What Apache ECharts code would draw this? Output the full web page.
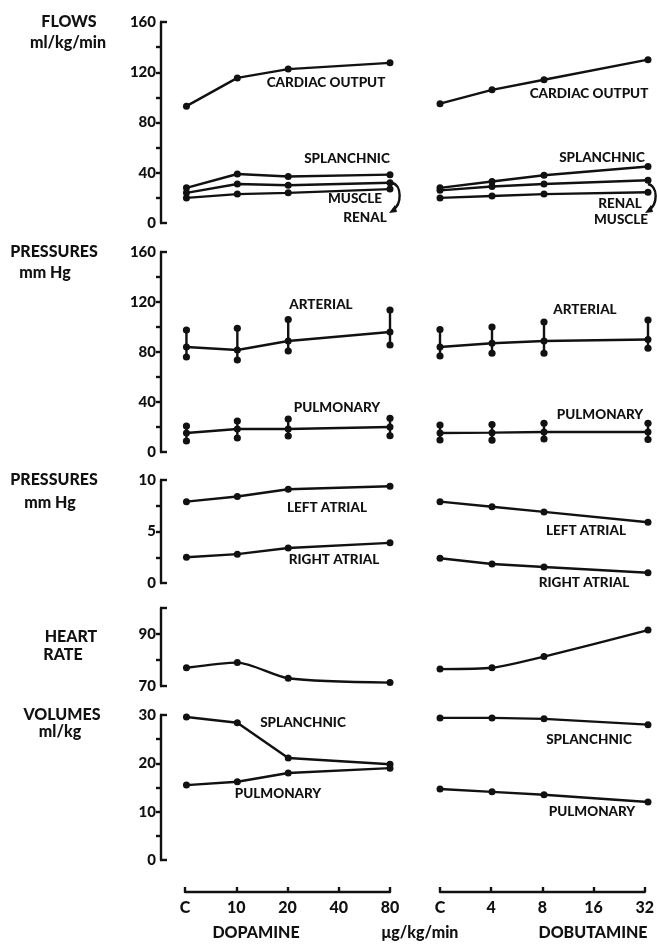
<!DOCTYPE html>
<html>
<head>
<meta charset="utf-8">
<script src="https://cdn.jsdelivr.net/npm/echarts@6/dist/echarts.min.js"></script>
<style>
  html, body { margin: 0; padding: 0; background: #fff; }
  #chart { width: 657px; height: 950px; }
</style>
</head>
<body>
<div id="chart"></div>
<script>
// Dose steps, log-spaced and plotted at equal intervals
const dopamineDoses = ['C', '10', '20', '40', '80'];
const dobutamineDoses = ['C', '4', '8', '16', '32'];
// Position on the dose axis of each measured step (40 and 16 were not measured)
const measuredSteps = [0, 1, 2, 4];

// Flows, ml/kg/min
const flowCardiacDopamine = [93, 115.5, 122.5, 127.5];
const flowSplanchnicDopamine = [28, 39, 37, 38.5];
const flowMuscleDopamine = [24, 31, 30, 32];
const flowRenalDopamine = [20, 23, 24, 27];
const flowCardiacDobutamine = [95, 106, 114, 130];
const flowSplanchnicDobutamine = [28, 33, 38, 45];
const flowRenalDobutamine = [26, 29, 31, 34];
const flowMuscleDobutamine = [20, 21.5, 23, 24.5];

// Vascular pressures, mm Hg (mean with low/high range)
const arterialMeanDopamine = [84, 81.6, 88.8, 96];
const arterialHighDopamine = [97.6, 99, 106, 113.6];
const arterialLowDopamine = [76, 73.6, 80.8, 85.6];
const pulmonaryMeanDopamine = [15.2, 18.4, 18.4, 20];
const pulmonaryHighDopamine = [20.8, 24.8, 26.4, 27];
const pulmonaryLowDopamine = [8.8, 11.2, 12.8, 13];
const arterialMeanDobutamine = [84, 87, 88.8, 90];
const arterialHighDobutamine = [98, 100, 104, 105.6];
const arterialLowDobutamine = [76.8, 79, 79, 83];
const pulmonaryMeanDobutamine = [15.2, 15.5, 16, 16];
const pulmonaryHighDobutamine = [21.6, 22, 23, 23];
const pulmonaryLowDobutamine = [9.6, 9.5, 10.4, 10];

// Atrial pressures, mm Hg
const leftAtrialDopamine = [7.9, 8.4, 9.1, 9.4];
const rightAtrialDopamine = [2.5, 2.8, 3.4, 3.9];
const leftAtrialDobutamine = [7.9, 7.4, 6.9, 5.9];
const rightAtrialDobutamine = [2.4, 1.85, 1.55, 1.0];

// Heart rate, beats/min
const heartRateDopamine = [77, 79, 73, 71.3];
const heartRateDobutamine = [76.5, 77, 81.3, 91.5];

// Volumes, ml/kg
const volSplanchnicDopamine = [29.6, 28.4, 21.1, 19.8];
const volPulmonaryDopamine = [15.5, 16.2, 18, 19];
const volSplanchnicDobutamine = [29.4, 29.4, 29.2, 28];
const volPulmonaryDobutamine = [14.7, 14.1, 13.5, 12];

// Y-axis tick values per row
const flowTicks = [0, 20, 40, 60, 80, 100, 120, 140, 160];
const flowTickLabels = [0, 40, 80, 120, 160];
const atrialTicks = [0, 2.5, 5, 7.5, 10];
const atrialTickLabels = [0, 5, 10];
const heartRateTicks = [70, 80, 90, 100];
const heartRateTickLabels = [70, 90];
const volumeTicks = [0, 5, 10, 15, 20, 25, 30];
const volumeTickLabels = [0, 10, 20, 30];

// ---------- layout & styling ----------
const FONT = 'Lato, "Liberation Sans", Arial, sans-serif';
const WEIGHT = 900;
const INK = '#111';
const LW = 2.4;

const rows = [
  { top: 22,  height: 201, min: 0,  max: 160, ticks: flowTicks, labels: flowTickLabels },
  { top: 252, height: 200, min: 0,  max: 160, ticks: flowTicks, labels: flowTickLabels },
  { top: 480, height: 103, min: 0,  max: 10,  ticks: atrialTicks, labels: atrialTickLabels },
  { top: 608, height: 78,  min: 70, max: 100, ticks: heartRateTicks, labels: heartRateTickLabels },
  { top: 715, height: 145, min: 0,  max: 30,  ticks: volumeTicks, labels: volumeTickLabels }
];
const dopaLeft = 161, dopaWidth = 229, dopaMin = -0.5;
const dobuLeft = 440, dobuWidth = 208, dobuMin = 0;

const grid = [], xAxis = [], yAxis = [], series = [];

rows.forEach((r, i) => {
  [[dopaLeft, dopaWidth, dopaMin, true], [dobuLeft, dobuWidth, dobuMin, false]].forEach(([left, width, xmin, showY]) => {
    grid.push({ left, width, top: r.top, height: r.height });
    xAxis.push({ gridIndex: grid.length - 1, type: 'value', min: xmin, max: 4, show: false });
    const inner = r.ticks.filter(v => v !== r.min && v !== r.max);
    yAxis.push({
      gridIndex: grid.length - 1, type: 'value', min: r.min, max: r.max,
      show: showY, splitLine: { show: false }, position: 'left',
      axisLine: { show: true, onZero: false, lineStyle: { color: INK, width: LW } },
      axisTick: { show: true, inside: false, length: 5, customValues: inner, lineStyle: { color: INK, width: LW } },
      axisLabel: { show: true, customValues: r.labels, margin: 5, color: INK, fontFamily: FONT, fontWeight: WEIGHT, fontSize: 15 }
    });
  });
});

// Bottom dose axes
const bottomTop = 880, bottomHeight = 12;
[[185, 205, dopamineDoses], [440, 210, dobutamineDoses]].forEach(([left, width, doses]) => {
  grid.push({ left, width, top: bottomTop, height: bottomHeight });
  const gi = grid.length - 1;
  xAxis.push({
    gridIndex: gi, type: 'category', data: doses, boundaryGap: false, position: 'bottom',
    axisLine: { show: true, onZero: false, lineStyle: { color: INK, width: LW } },
    axisTick: { show: true, inside: true, length: 5, alignWithLabel: true, lineStyle: { color: INK, width: LW } },
    axisLabel: { interval: 0, margin: 8, color: INK, fontFamily: FONT, fontWeight: WEIGHT, fontSize: 16 },
    splitLine: { show: false }
  });
  yAxis.push({ gridIndex: gi, type: 'value', show: false });
});

function pairs(vals) { return vals.map((v, k) => [measuredSteps[k], v]); }

function addLine(gi, vals, smooth) {
  series.push({
    type: 'line', xAxisIndex: gi, yAxisIndex: gi, data: pairs(vals),
    symbol: 'circle', symbolSize: 7, smooth: smooth || false, clip: false,
    lineStyle: { color: INK, width: LW }, itemStyle: { color: INK },
    emphasis: { disabled: true }, silent: true
  });
}

function addRange(gi, lows, highs) {
  series.push({
    type: 'custom', xAxisIndex: gi, yAxisIndex: gi, clip: false, silent: true,
    data: lows.map((lo, k) => [measuredSteps[k], lo, highs[k]]),
    encode: { x: 0, y: [1, 2] },
    renderItem(params, api) {
      const x = api.value(0);
      const a = api.coord([x, api.value(1)]);
      const b = api.coord([x, api.value(2)]);
      return {
        type: 'group', children: [
          { type: 'line', shape: { x1: a[0], y1: a[1], x2: b[0], y2: b[1] }, style: { stroke: INK, lineWidth: LW } },
          { type: 'circle', shape: { cx: a[0], cy: a[1], r: 3.6 }, style: { fill: INK } },
          { type: 'circle', shape: { cx: b[0], cy: b[1], r: 3.6 }, style: { fill: INK } }
        ]
      };
    }
  });
}

// Right-pointing end caps at the top and bottom of each left axis
function addCaps(gi, r) {
  series.push({
    type: 'custom', xAxisIndex: gi, yAxisIndex: gi, clip: false, silent: true,
    data: [[dopaMin, r.min], [dopaMin, r.max]],
    renderItem(params, api) {
      const p = api.coord([api.value(0), api.value(1)]);
      return { type: 'line', shape: { x1: p[0] - 1, y1: p[1], x2: p[0] + 6, y2: p[1] }, style: { stroke: INK, lineWidth: LW } };
    }
  });
}
rows.forEach((r, i) => addCaps(2 * i, r));

// Flows
addLine(0, flowCardiacDopamine);
addLine(0, flowSplanchnicDopamine);
addLine(0, flowMuscleDopamine);
addLine(0, flowRenalDopamine);
addLine(1, flowCardiacDobutamine);
addLine(1, flowSplanchnicDobutamine);
addLine(1, flowRenalDobutamine);
addLine(1, flowMuscleDobutamine);

// Vascular pressures
addRange(2, arterialLowDopamine, arterialHighDopamine);
addRange(2, pulmonaryLowDopamine, pulmonaryHighDopamine);
addLine(2, arterialMeanDopamine);
addLine(2, pulmonaryMeanDopamine);
addRange(3, arterialLowDobutamine, arterialHighDobutamine);
addRange(3, pulmonaryLowDobutamine, pulmonaryHighDobutamine);
addLine(3, arterialMeanDobutamine);
addLine(3, pulmonaryMeanDobutamine);

// Atrial pressures
addLine(4, leftAtrialDopamine);
addLine(4, rightAtrialDopamine);
addLine(5, leftAtrialDobutamine);
addLine(5, rightAtrialDobutamine);

// Heart rate
addLine(6, heartRateDopamine, 0.25);
addLine(7, heartRateDobutamine, 0.2);

// Volumes
addLine(8, volSplanchnicDopamine);
addLine(8, volPulmonaryDopamine);
addLine(9, volSplanchnicDobutamine);
addLine(9, volPulmonaryDobutamine);

// Text: panel titles, curve names and dose captions
const panelTitles = [
  ['FLOWS', 69, 22], ['ml/kg/min', 68, 43],
  ['PRESSURES', 54, 252], ['mm Hg', 45, 273],
  ['PRESSURES', 54, 480], ['mm Hg', 50, 503],
  ['HEART', 71, 637], ['RATE', 63, 655],
  ['VOLUMES', 62, 715], ['ml/kg', 60, 732]
];
const curveNames = [
  ['CARDIAC OUTPUT', 326, 83], ['SPLANCHNIC', 347, 159], ['MUSCLE', 355, 199], ['RENAL', 365, 218],
  ['CARDIAC OUTPUT', 589, 94], ['SPLANCHNIC', 602, 158], ['RENAL', 620, 204], ['MUSCLE', 621, 220],
  ['ARTERIAL', 321, 305], ['PULMONARY', 337, 408],
  ['ARTERIAL', 585, 310], ['PULMONARY', 600, 415],
  ['LEFT ATRIAL', 327, 508], ['RIGHT ATRIAL', 334, 560],
  ['LEFT ATRIAL', 586, 531], ['RIGHT ATRIAL', 584, 583],
  ['SPLANCHNIC', 303, 723], ['PULMONARY', 278, 794],
  ['SPLANCHNIC', 589, 740], ['PULMONARY', 592, 812]
];
const doseCaptions = [['DOPAMINE', 256, 933], ['μg/kg/min', 420, 933], ['DOBUTAMINE', 593, 933]];

function textEl(t, x, y, size) {
  return {
    type: 'text', x, y, silent: true,
    style: { text: t, fill: INK, font: WEIGHT + ' ' + size + 'px ' + FONT, textAlign: 'center', textVerticalAlign: 'middle' }
  };
}
const graphic = [];
panelTitles.forEach(([t, x, y]) => graphic.push(textEl(t, x, y, 16)));
curveNames.forEach(([t, x, y]) => graphic.push(textEl(t, x, y, 13.5)));
doseCaptions.forEach(([t, x, y]) => graphic.push(textEl(t, x, y, 16)));

// Curved brackets pointing from the muscle/renal names to their curves
function bracket(x, y1, y2) {
  return [
    { type: 'bezierCurve', silent: true,
      shape: { x1: x - 4, y1: y1, cpx1: x + 6, cpy1: y1 + 2, cpx2: x + 6, cpy2: y2 - 6, x2: x - 3, y2: y2 },
      style: { stroke: INK, lineWidth: 2.4, fill: null } },
    { type: 'polygon', silent: true,
      shape: { points: [[x - 7, y2 + 3], [x - 1, y2 - 5], [x + 1, y2 + 2]] },
      style: { fill: INK } }
  ];
}
graphic.push(...bracket(396, 183, 210));
graphic.push(...bracket(652, 184, 210));

const chart = echarts.init(document.getElementById('chart'), null, { renderer: 'canvas' });
chart.setOption({
  animation: false,
  backgroundColor: '#fff',
  textStyle: { fontFamily: FONT },
  grid, xAxis, yAxis, series, graphic
});
</script>
</body>
</html>
